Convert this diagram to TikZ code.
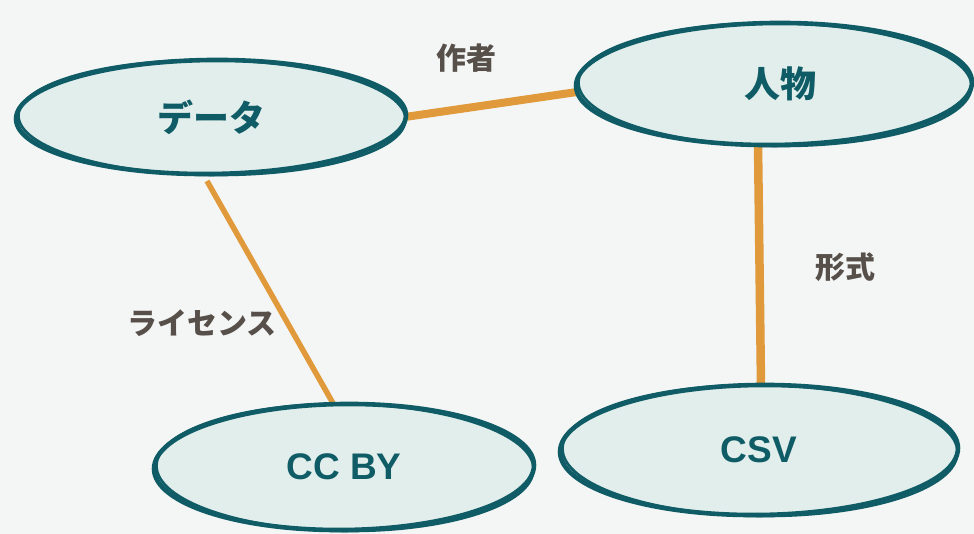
\documentclass[tikz,border=0pt]{standalone}
\usepackage{fontspec}
\setmainfont{Liberation Sans}
\newfontfamily\jp{Noto Sans CJK JP}
\usetikzlibrary{shapes.geometric}
\definecolor{bgc}{HTML}{F4F6F5}
\definecolor{fillc}{HTML}{E1EEEB}
\definecolor{inkc}{HTML}{0F5C66}
\definecolor{edgec}{HTML}{E09A3B}
\definecolor{labc}{HTML}{574F49}
\tikzset{
  ell/.style={ellipse, fill=fillc, draw=none, inner sep=0pt, outer sep=0pt, text=inkc,
    font={\jp\bfseries\fontsize{36}{40}\selectfont}},
  latin/.style={font={\bfseries\fontsize{37}{40}\selectfont}},
  sk/.style={draw=inkc, line width=4.6pt},
  sktwo/.style={draw=inkc, line width=2.6pt},
  edge/.style={draw=edgec, line width=8pt},
  lab/.style={text=labc, inner sep=0pt, font={\jp\bfseries\fontsize{30}{34}\selectfont}}
}
\newcommand\sketchring[3]{%
  \draw[sk] (#1.center) ellipse[x radius=#2pt, y radius=#3pt, rotate=0.6];
  \draw[sktwo] ([shift={(1pt,-0.5pt)}]#1.center) ellipse[x radius={#2pt-1.5pt}, y radius={#3pt+0.5pt}, rotate=-0.6];
}
\begin{document}
\begin{tikzpicture}[x=1pt,y=-1pt]
  \fill[bgc] (0,0) rectangle (974,534);
  \useasboundingbox (0,0) rectangle (974,534);

  \node[ell, minimum width=388pt, minimum height=112pt] (data) at (211,117) {データ};
  \node[ell, minimum width=394pt, minimum height=120pt] (person) at (774,84) {\hspace{12pt}人物};
  \node[ell, latin, minimum width=378pt, minimum height=124pt] (ccby) at (344,467) {CC BY};
  \node[ell, latin, minimum width=396pt, minimum height=128pt] (csv) at (759,450) {CSV};

  \draw[edge] (data.east) -- ([yshift=-8pt]person.west);
  \draw[edge, line width=5.5pt] ([xshift=-4pt,yshift=-8pt]data.south) -- ([xshift=-10pt]ccby.north);
  \draw[edge, line width=8.5pt] ([xshift=-16pt]person.south) -- ([xshift=2pt]csv.north);

  \sketchring{data}{195}{57}
  \sketchring{person}{198}{61}
  \sketchring{ccby}{190}{63}
  \sketchring{csv}{199}{65}

  \node[lab] (lauthor) at (466,58) {作者};
  \node[lab] (llicense) at (202,323) {ライセンス};
  \node[lab] (lformat) at (845,267) {形式};
\end{tikzpicture}
\end{document}
